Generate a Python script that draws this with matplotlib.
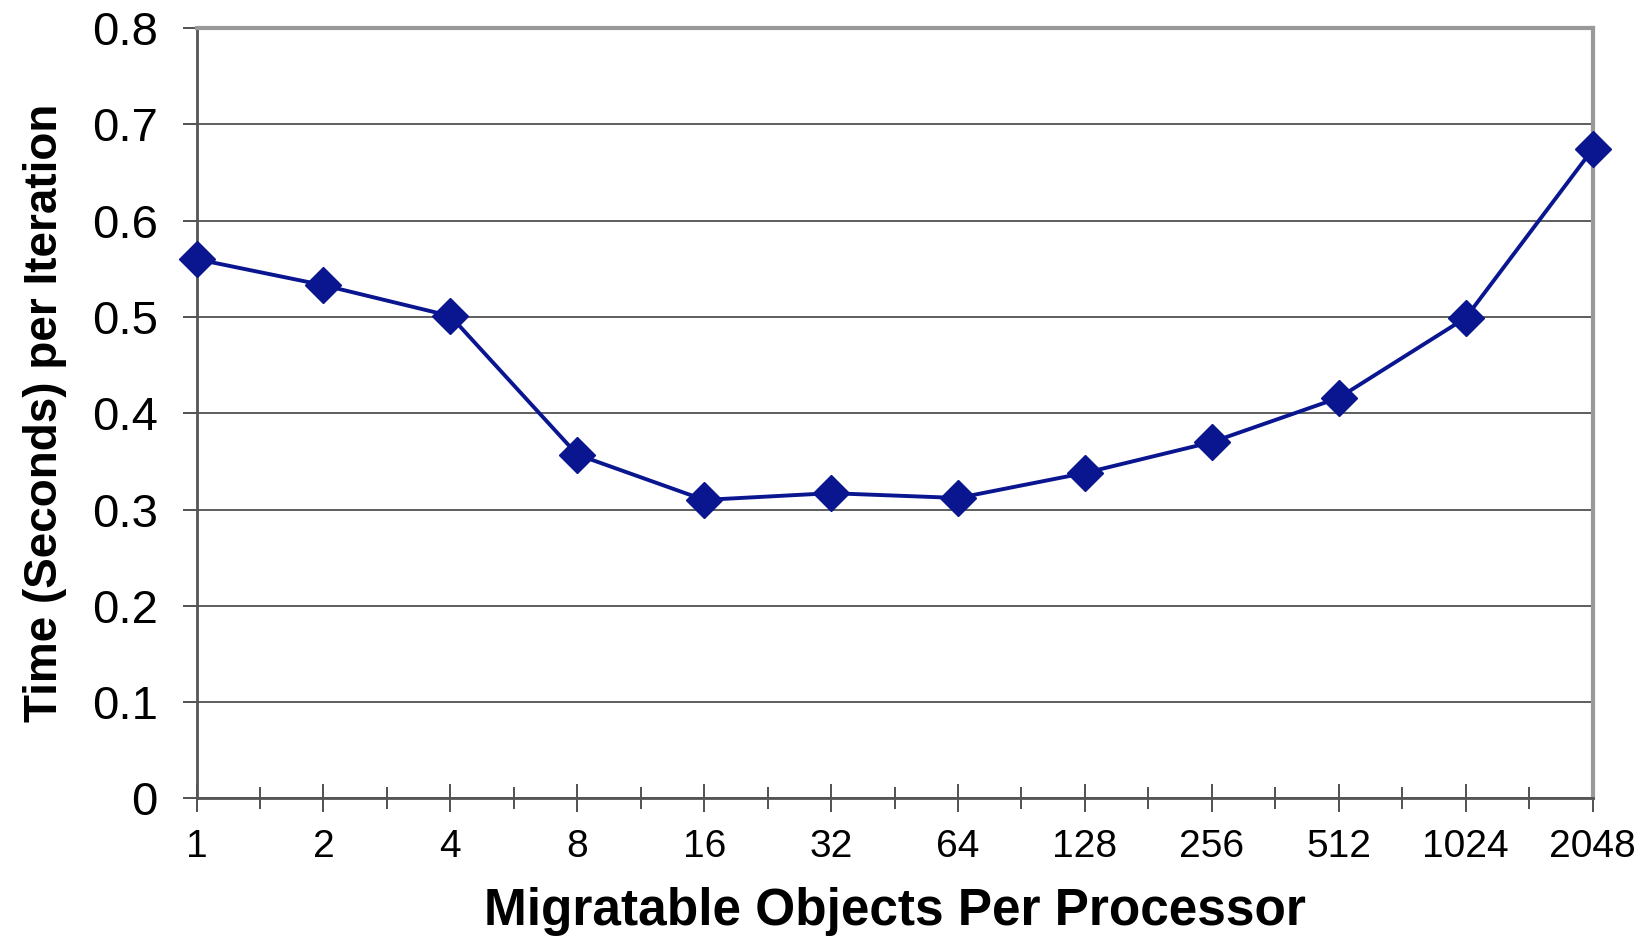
import matplotlib.pyplot as plt
from matplotlib.ticker import MultipleLocator

plt.rcParams['font.family'] = ['Liberation Sans', 'DejaVu Sans']

objects = ['1', '2', '4', '8', '16', '32', '64', '128', '256', '512', '1024', '2048']
time_per_iter = [0.560, 0.533, 0.501, 0.357, 0.310, 0.317, 0.312, 0.338, 0.370, 0.416, 0.499, 0.674]
y_ticks = [0, 0.1, 0.2, 0.3, 0.4, 0.5, 0.6, 0.7, 0.8]
y_labels = ['0', '0.1', '0.2', '0.3', '0.4', '0.5', '0.6', '0.7', '0.8']

fig = plt.figure(figsize=(16.52, 9.36), dpi=100)
ax = fig.add_axes([0.119, 0.147, 0.845, 0.823])

x = list(range(len(objects)))
ax.plot(x, time_per_iter, color='#0A1590', lw=2.8, marker='D', markersize=18,
        clip_on=False, zorder=5)

ax.set_xlim(0, len(objects) - 1)
ax.set_ylim(0, 0.8)
ax.set_xticks(x)
ax.set_xticklabels(objects, fontsize=28)
ax.xaxis.set_minor_locator(MultipleLocator(0.5))
ax.set_yticks(y_ticks)
ax.set_yticklabels(y_labels, fontsize=34)

ax.grid(axis='y', color='#333333', lw=1.1)
ax.set_axisbelow(True)

ax.spines['left'].set_color('#555555')
ax.spines['bottom'].set_color('#555555')
ax.spines['left'].set_linewidth(2)
ax.spines['bottom'].set_linewidth(2)
ax.spines['top'].set_color('#999999')
ax.spines['right'].set_color('#999999')
ax.spines['top'].set_linewidth(3)
ax.spines['right'].set_linewidth(3)

ax.tick_params(axis='x', which='major', direction='inout', length=20, width=1.2,
               color='#333333', pad=12)
ax.tick_params(axis='x', which='minor', direction='inout', length=16, width=1.2,
               color='#333333')
ax.tick_params(axis='y', direction='out', length=10, width=1.2, color='#333333', pad=18)

ax.set_xlabel('Migratable Objects Per Processor', fontsize=37, fontweight='bold', labelpad=16)
ax.set_ylabel('Time (Seconds) per Iteration', fontsize=33, fontweight='bold', labelpad=18)

fig.savefig('out.png', dpi=100)
